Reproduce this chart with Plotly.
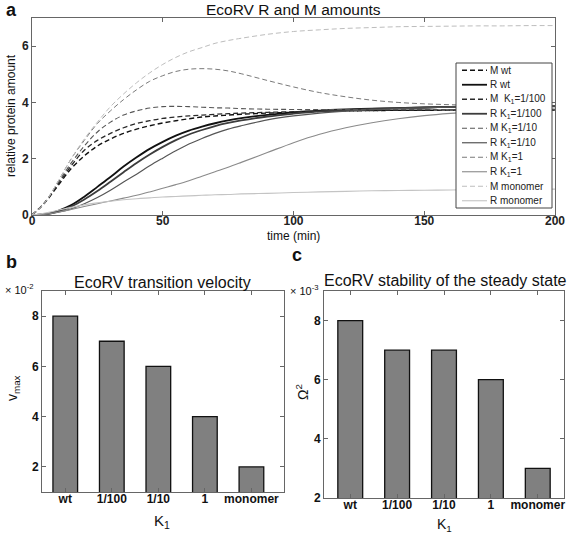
import plotly.graph_objects as go

# ---------------- data ----------------
t = [0, 5, 10, 15, 20, 25, 30, 35, 40, 45, 50, 55, 60, 65, 70, 75, 80, 90, 100,
     110, 120, 130, 140, 150, 160, 170, 180, 190, 200]

M_wt = [0, 0.45, 1.05, 1.65, 2.1, 2.45, 2.7, 2.9, 3.05, 3.17, 3.27, 3.35, 3.42, 3.48, 3.52,
        3.55, 3.58, 3.62, 3.65, 3.68, 3.7, 3.71, 3.72, 3.72, 3.73, 3.73, 3.73, 3.73, 3.73]
R_wt = [0, 0.03, 0.15, 0.35, 0.65, 1.0, 1.35, 1.72, 2.05, 2.35, 2.6, 2.82, 3.0, 3.14, 3.26,
        3.36, 3.44, 3.56, 3.65, 3.71, 3.75, 3.78, 3.8, 3.82, 3.84, 3.85, 3.86, 3.87, 3.88]
M_k100 = [0, 0.45, 1.1, 1.75, 2.3, 2.65, 2.9, 3.1, 3.25, 3.35, 3.43, 3.48, 3.52, 3.55, 3.58,
          3.6, 3.62, 3.65, 3.67, 3.69, 3.7, 3.71, 3.72, 3.72, 3.73, 3.73, 3.73, 3.73, 3.73]
R_k100 = [0, 0.03, 0.13, 0.3, 0.55, 0.85, 1.18, 1.52, 1.85, 2.15, 2.42, 2.66, 2.86, 3.02, 3.16,
          3.27, 3.36, 3.5, 3.6, 3.68, 3.73, 3.77, 3.8, 3.82, 3.84, 3.85, 3.86, 3.87, 3.88]
M_k10 = [0, 0.45, 1.15, 1.85, 2.45, 2.95, 3.3, 3.55, 3.7, 3.8, 3.85, 3.86, 3.85, 3.83, 3.81,
         3.8, 3.78, 3.76, 3.75, 3.75, 3.75, 3.75, 3.75, 3.75, 3.75, 3.75, 3.75, 3.75, 3.75]
R_k10 = [0, 0.02, 0.1, 0.22, 0.4, 0.62, 0.88, 1.17, 1.45, 1.75, 2.02, 2.28, 2.52, 2.72, 2.9,
         3.05, 3.17, 3.38, 3.52, 3.62, 3.69, 3.74, 3.78, 3.81, 3.83, 3.85, 3.86, 3.87, 3.88]
M_k1 = [0, 0.45, 1.2, 2.0, 2.65, 3.25, 3.7, 4.1, 4.45, 4.75, 4.95, 5.1, 5.18, 5.2, 5.18,
        5.12, 5.02, 4.78, 4.55, 4.35, 4.2, 4.08, 4.0, 3.95, 3.92, 3.9, 3.89, 3.88, 3.87]
R_k1 = [0, 0.03, 0.1, 0.2, 0.3, 0.4, 0.5, 0.6, 0.7, 0.82, 0.95, 1.08, 1.22, 1.38, 1.54,
        1.7, 1.87, 2.22, 2.57, 2.87, 3.1, 3.28, 3.42, 3.53, 3.61, 3.67, 3.72, 3.76, 3.8]
M_mono = [0, 0.45, 1.2, 2.0, 2.7, 3.3, 3.85, 4.3, 4.7, 5.05, 5.35, 5.6, 5.8, 5.95, 6.1,
          6.2, 6.28, 6.42, 6.52, 6.58, 6.63, 6.66, 6.69, 6.7, 6.71, 6.72, 6.72, 6.73, 6.73]
R_mono = [0, 0.07, 0.17, 0.27, 0.36, 0.43, 0.49, 0.54, 0.58, 0.61, 0.64, 0.66, 0.68, 0.7, 0.72,
          0.73, 0.75, 0.77, 0.8, 0.82, 0.84, 0.86, 0.87, 0.88, 0.89, 0.9, 0.91, 0.91, 0.92]

categories = ["wt", "1/100", "1/10", "1", "monomer"]
v_max = [0.08, 0.07, 0.06, 0.04, 0.02]
omega2 = [0.008, 0.007, 0.007, 0.006, 0.003]

b_ticks = [0.02, 0.04, 0.06, 0.08]
b_ticktext = ["2", "4", "6", "8"]
c_ticks = [0.002, 0.004, 0.006, 0.008]
c_ticktext = ["2", "4", "6", "8"]

# ---------------- figure ----------------
W, H = 567, 533
fig = go.Figure()

DASH = "5px,3px"
series = [
    ("M wt", M_wt, "#111111", DASH, 1.4),
    ("R wt", R_wt, "#111111", "solid", 1.8),
    ("M  K<sub>1</sub>=1/100", M_k100, "#2a2a2a", DASH, 1.3),
    ("R K<sub>1</sub>=1/100", R_k100, "#3c3c3c", "solid", 1.8),
    ("M K<sub>1</sub>=1/10", M_k10, "#555555", DASH, 1.1),
    ("R K<sub>1</sub>=1/10", R_k10, "#555555", "solid", 1.2),
    ("M K<sub>1</sub>=1", M_k1, "#7a7a7a", DASH, 1.0),
    ("R K<sub>1</sub>=1", R_k1, "#8a8a8a", "solid", 1.1),
    ("M monomer", M_mono, "#bdbdbd", DASH, 1.0),
    ("R monomer", R_mono, "#c4c4c4", "solid", 1.1),
]
for name, y, col, dash, w in series:
    fig.add_trace(go.Scatter(x=t, y=y, mode="lines", name=name, showlegend=False,
                             line=dict(color=col, dash=dash, width=w, shape="spline"),
                             xaxis="x", yaxis="y"))

bar_style = dict(marker=dict(color="#808080", line=dict(color="#111111", width=1.3)),
                 width=0.53, showlegend=False)
fig.add_trace(go.Bar(x=categories, y=v_max, xaxis="x2", yaxis="y2", **bar_style))
fig.add_trace(go.Bar(x=categories, y=omega2, xaxis="x3", yaxis="y3", **bar_style))

ax_common = dict(showline=True, linecolor="#666666", linewidth=1, mirror="ticks",
                 ticks="inside", ticklen=4, tickcolor="#666666", showgrid=False,
                 zeroline=False, automargin=False)
tickfont_a = dict(family="Liberation Sans, Arial", size=12, color="#222222", weight="bold")
tickfont_bc = dict(family="Liberation Sans, Arial", size=12, color="#111111", weight="bold")


def px_x(p):
    return p / W


def px_y(p):
    return 1 - p / H


fig.update_layout(
    width=W, height=H, margin=dict(l=0, r=0, t=0, b=0),
    paper_bgcolor="white", plot_bgcolor="white", showlegend=False,
    font=dict(family="Liberation Sans, Arial", color="#222222"),
    xaxis=dict(domain=[px_x(32), px_x(555)], range=[0, 200], tickvals=[0, 50, 100, 150, 200],
               tickfont=tickfont_a, anchor="y", ticklabelstandoff=-5, **ax_common),
    yaxis=dict(domain=[px_y(215), px_y(18)], range=[0, 7], tickvals=[0, 2, 4, 6],
               tickfont=tickfont_a, anchor="x", **ax_common),
    xaxis2=dict(domain=[px_x(42), px_x(284)], range=[-0.5, 4.7], type="category",
                tickfont=tickfont_bc, anchor="y2", ticklabelstandoff=-4, **ax_common),
    yaxis2=dict(domain=[px_y(492), px_y(291)], range=[0.01, 0.09], tickvals=b_ticks,
                ticktext=b_ticktext, tickfont=tickfont_bc, anchor="x2", **ax_common),
    xaxis3=dict(domain=[px_x(324), px_x(564)], range=[-0.56, 4.56], type="category",
                tickfont=tickfont_bc, anchor="y3", ticklabelstandoff=-4, **ax_common),
    yaxis3=dict(domain=[px_y(498), px_y(291)], range=[0.002, 0.009], tickvals=c_ticks,
                ticktext=c_ticktext, tickfont=tickfont_bc, anchor="x3", **ax_common),
)


def ann(text, x, y, size=12, angle=0, bold=False, xanchor="center", yanchor="middle",
        color="#111111"):
    fig.add_annotation(text=f"<b>{text}</b>" if bold else text, x=px_x(x), y=px_y(y),
                       xref="paper", yref="paper", showarrow=False, textangle=angle,
                       font=dict(size=size, color=color),
                       xanchor=xanchor, yanchor=yanchor)


# manual legend box (panel a)
LX0, LX1, LY0, LY1 = 456, 552, 63, 208
fig.add_shape(type="rect", xref="paper", yref="paper",
              x0=px_x(LX0), x1=px_x(LX1), y0=px_y(LY1), y1=px_y(LY0),
              line=dict(color="#444444", width=1), fillcolor="white", layer="above")
step = (LY1 - LY0) / len(series)
for i, (name, y, col, dash, w) in enumerate(series):
    yc = LY0 + step * (i + 0.5)
    fig.add_shape(type="line", xref="paper", yref="paper",
                  x0=px_x(462), x1=px_x(487), y0=px_y(yc), y1=px_y(yc),
                  line=dict(color=col, dash=dash, width=w), layer="above")
    ann(name, 488, yc, size=10, xanchor="left", color="#222222")

ann("a", 4, 10, size=18, bold=True, xanchor="left")
ann("EcoRV R and M amounts", 293, 9, size=15.5)
ann("relative protein amount", 11, 116, size=12, angle=-90)
ann("time (min)", 293, 236, size=12)

ann("b", 4, 262, size=18, bold=True, xanchor="left")
ann("EcoRV transition velocity", 162, 282, size=16)
ann("× 10<sup>-2</sup>", 3, 289, size=11, xanchor="left")
ann("v<sub>max</sub>", 13, 388, size=14, angle=-90)
ann("K<sub>1</sub>", 162, 521, size=15)

ann("c", 290, 255, size=18, bold=True, xanchor="left")
ann("EcoRV stability of the steady state", 445, 280, size=16)
ann("× 10<sup>-3</sup>", 288, 290, size=11, xanchor="left")
ann("Ω<sup>2</sup>", 302, 392, size=14, angle=-90)
ann("K<sub>1</sub>", 444, 525, size=14)

fig.write_html("out.html", config={"displayModeBar": False},
               post_script="document.body.style.margin='0px';")
